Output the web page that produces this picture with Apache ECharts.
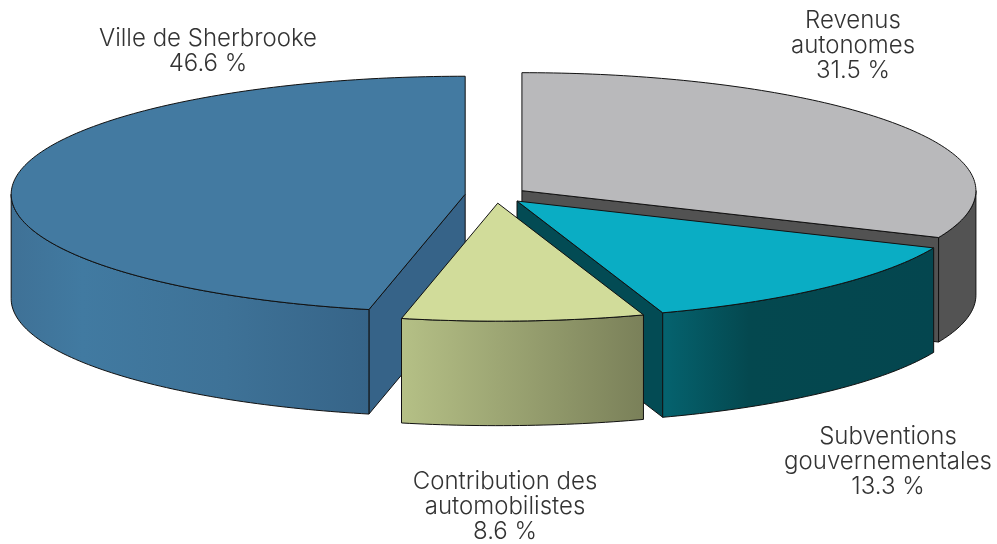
<!DOCTYPE html>
<html>
<head>
<meta charset="utf-8">
<style>
  html, body { margin: 0; padding: 0; background: #fff; }
  #main { width: 997px; height: 544px; }
</style>
<script src="https://cdn.jsdelivr.net/npm/echarts@6/dist/echarts.min.js"></script>
</head>
<body>
<div id="main"></div>
<script>
// data, clockwise from 12 o'clock
var categories = ['Revenus\nautonomes', 'Subventions\ngouvernementales', 'Contribution des\nautomobilistes', 'Ville de Sherbrooke'];
var values = [31.5, 13.3, 8.6, 46.6];

// colours per slice
var topColors = ['#b9b9bb', '#0aadc4', '#d1dc9a', '#437aa1'];
var edgeColors = ['#525252', '#034b54', '#8a9068', '#366388'];
var wallStops = [
  [[0, '#535353'], [1, '#535353']],
  [[0, '#05636f'], [0.32, '#04484f'], [1, '#04464f']],
  [[0, '#b5c086'], [1, '#7a8059']],
  [[0, '#3f7196'], [0.2, '#417aa1'], [0.6, '#3e7297'], [1, '#366488']]
];

// pie geometry
var cx = 496, cy = 195.1, rx = 454, ry = 118, depth = 104.5, explode = 31;
var lineColor = '#111';

// label anchors (centre x, top y)
var labelPos = [[853, 8], [888, 424], [505, 469], [208, 26]];

var total = values.reduce(function (a, b) { return a + b; }, 0);

function toRad(d) { return d * Math.PI / 180; }

function arcPoints(x0, y0, from, to) {
  var pts = [];
  var n = Math.max(2, Math.ceil(Math.abs(to - from)));
  for (var i = 0; i <= n; i++) {
    var t = toRad(from + (to - from) * i / n);
    pts.push([x0 + rx * Math.sin(t), y0 - ry * Math.cos(t)]);
  }
  return pts;
}

function shift(pts) {
  return pts.map(function (p) { return [p[0], p[1] + depth]; });
}

function renderSlice(params, api) {
  var i = params.dataIndex;
  var before = 0;
  for (var j = 0; j < i; j++) before += values[j];
  var start = before / total * 360;
  var end = (before + api.value(0)) / total * 360;
  var mid = toRad((start + end) / 2);
  var x0 = cx + explode * Math.sin(mid);
  var y0 = cy - explode * ry / rx * Math.cos(mid);
  var z = Math.round(-Math.cos(mid) * 100) + 100;
  var stroke = { stroke: lineColor, lineWidth: 1, lineJoin: 'round' };
  var kids = [];

  function poly(points, fill) {
    kids.push({
      type: 'polygon',
      z2: z,
      shape: { points: points },
      style: Object.assign({ fill: fill }, stroke)
    });
  }
  function radial(angle) {
    var rim = arcPoints(x0, y0, angle, angle)[0];
    var apex = [x0, y0];
    poly([apex, rim, shift([rim])[0], shift([apex])[0]], edgeColors[i]);
  }

  // cut faces, only those turned to the viewer
  if (Math.sin(toRad(start)) < -1e-6) radial(start);
  if (Math.sin(toRad(end)) > 1e-6) radial(end);

  // outer wall, front half of the rim
  var wallFrom = Math.max(start, 90), wallTo = Math.min(end, 270);
  if (wallTo > wallFrom) {
    var rim = arcPoints(x0, y0, wallFrom, wallTo);
    poly(rim.concat(shift(rim).reverse()), {
      type: 'linear', x: 0, y: 0, x2: 1, y2: 0,
      colorStops: wallStops[i].map(function (s) { return { offset: s[0], color: s[1] }; })
    });
  }

  // top face
  poly([[x0, y0]].concat(arcPoints(x0, y0, start, end)), topColors[i]);

  // label
  kids.push({
    type: 'text',
    z2: 500,
    style: {
      x: labelPos[i][0],
      y: labelPos[i][1],
      text: categories[i] + '\n' + api.value(0).toFixed(1) + ' %',
      align: 'center',
      verticalAlign: 'top',
      fontFamily: 'Inter',
      fontWeight: 300,
      fontSize: 24,
      lineHeight: 25,
      fill: '#333'
    }
  });
  return { type: 'group', children: kids };
}

var chart = echarts.init(document.getElementById('main'));
chart.setOption({
  animation: false,
  backgroundColor: '#fff',
  series: [{
    type: 'custom',
    coordinateSystem: 'none',
    silent: true,
    renderItem: renderSlice,
    data: values.map(function (v) { return [v]; })
  }]
});
</script>
</body>
</html>
